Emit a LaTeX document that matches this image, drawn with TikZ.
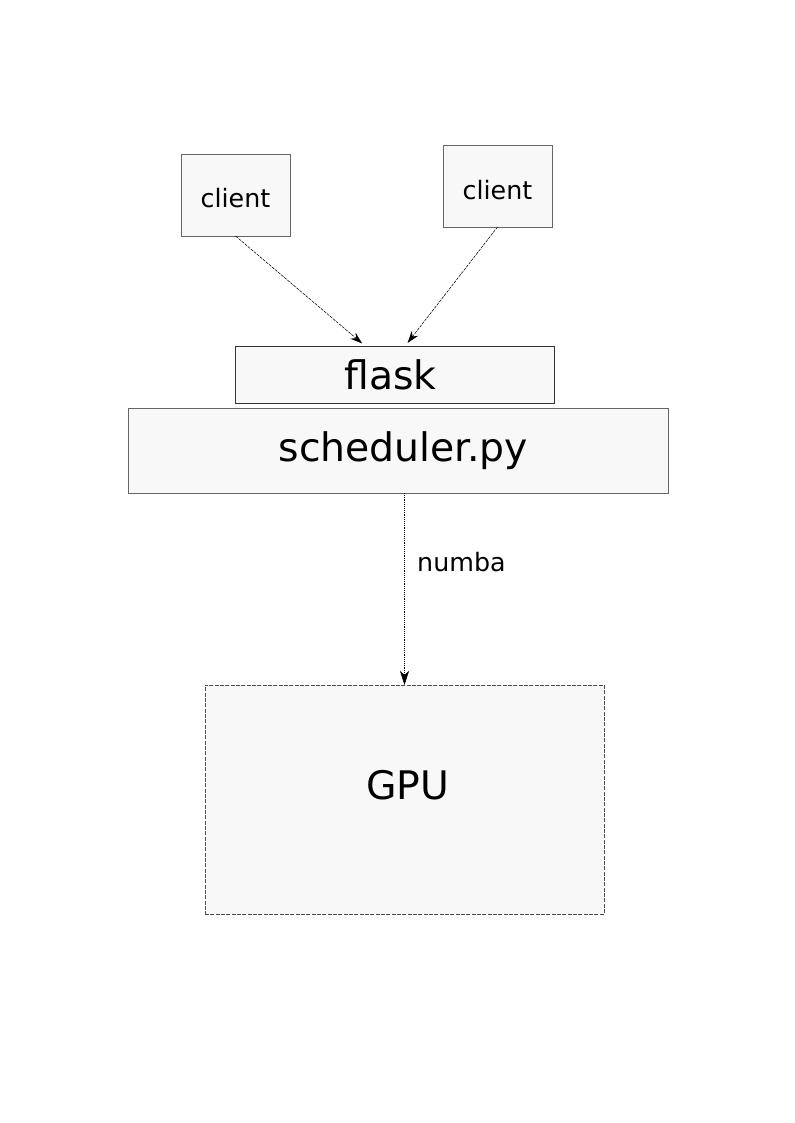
\documentclass[tikz,border=0pt]{standalone}
\usepackage{fontspec}
\setmainfont{DejaVu Sans}
\usetikzlibrary{arrows.meta,positioning,calc}
\definecolor{boxfill}{HTML}{F8F8F8}
\definecolor{boxline}{HTML}{666666}
\newcommand{\smalltxt}{\fontsize{19}{23}\selectfont}
\newcommand{\bigtxt}{\fontsize{29.5}{35}\selectfont}
\tikzstyle{block}=[draw=boxline, fill=boxfill, thin, inner sep=0pt, outer sep=0pt]
\tikzstyle{clientbox}=[block, minimum width=81.75pt, minimum height=61.5pt, font=\smalltxt]
\tikzstyle{request}=[thin, dash pattern=on 2.2pt off 0.8pt, -{Stealth[length=9pt,width=6pt,inset=3pt]}, shorten >=3pt]
\tikzstyle{call}=[thin, densely dotted, -{Stealth[length=10.5pt,width=6.75pt,inset=3pt]}]

\begin{document}
\begin{tikzpicture}[x=0.75pt,y=-0.75pt]
\useasboundingbox (0,0) rectangle (794,1123);
\node (client1) [clientbox] at (235.5,195) {\raisebox{-2.5pt}[\height][\depth]{client}};
\node (client2) [clientbox] at (497.5,186) {\raisebox{-3pt}[\height][\depth]{client}};
\node (flask) [block, draw=black!80, minimum width=239.25pt, minimum height=42.75pt, font=\bigtxt] at (394.5,374.5) {\hspace*{-6pt}flask};
\node (sched) [block, minimum width=405pt, minimum height=63.75pt, font=\bigtxt] at (398,450.5) {\hspace*{8pt}scheduler.py};
\node (gpu) [block, draw=black!70, dash pattern=on 3pt off 1pt, minimum width=299.25pt, minimum height=171.75pt, font=\bigtxt] at (404.5,799.5) {\raisebox{11pt}[\height][\depth]{\hspace*{5pt}GPU}};
\draw[request] (client1.south) -- ([xshift=-22pt]flask.north);
\draw[request] (client2.south) -- ([xshift=8pt]flask.north);
\draw[call] (gpu.north |- sched.south) -- node[right=6pt, pos=.36, font=\smalltxt]{numba} (gpu.north);
\end{tikzpicture}
\end{document}
